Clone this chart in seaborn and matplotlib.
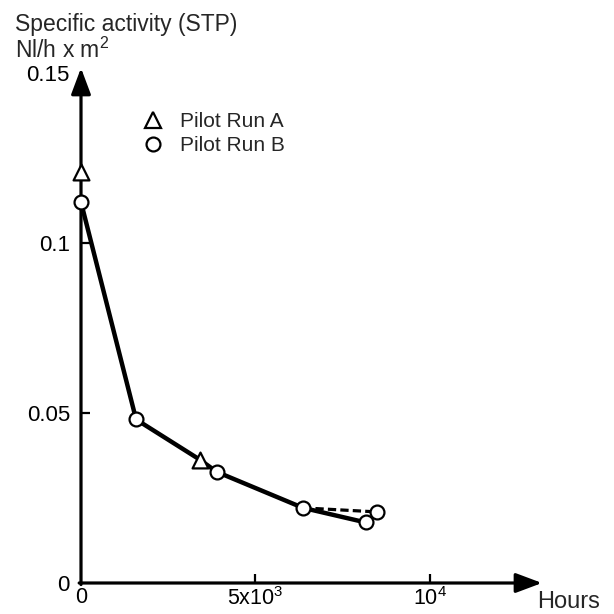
import matplotlib
matplotlib.use("Agg")
import matplotlib.pyplot as plt
import seaborn as sns
import pandas as pd
from matplotlib.lines import Line2D

# ---- data ----
run_a_hours = [0, 3406]
run_a_activity = [0.121, 0.0363]

run_b_hours = [0, 1581, 3891, 6370, 8175, 8502]
run_b_activity = [0.112, 0.0481, 0.0327, 0.0221, 0.0178, 0.0209]

trend_hours = [0, 1581, 3406, 3891, 6370, 8175]
trend_activity = [0.112, 0.0481, 0.0363, 0.0327, 0.0221, 0.0178]

dashed_hours = [6370, 8502]
dashed_activity = [0.0221, 0.0209]

y_ticks = [0, 0.05, 0.1, 0.15]
y_tick_labels = ["0", "0.05", "0.1", "0.15"]
x_ticks = [0, 5000, 10000]
x_tick_labels = ["0", "5x10$^{3}$", "10$^{4}$"]

legend_labels = ["Pilot Run A", "Pilot Run B"]

sns.set_style("white")
plt.rcParams["font.family"] = ["Liberation Sans", "DejaVu Sans"]
plt.rcParams["mathtext.fontset"] = "custom"
plt.rcParams["mathtext.rm"] = "Liberation Sans"
plt.rcParams["mathtext.it"] = "Liberation Sans"
plt.rcParams["mathtext.bf"] = "Liberation Sans"

W = H = 614
fig = plt.figure(figsize=(6.14, 6.14), dpi=100)
ax_left, ax_right, ax_bottom, ax_top = 81, 542, 583, 68
ax = fig.add_axes([ax_left / W, 1 - ax_bottom / H,
                   (ax_right - ax_left) / W, (ax_bottom - ax_top) / H])
ax.set_facecolor("none")

df_trend = pd.DataFrame({"hours": trend_hours, "activity": trend_activity})
df_dash = pd.DataFrame({"hours": dashed_hours, "activity": dashed_activity})
df_a = pd.DataFrame({"hours": run_a_hours, "activity": run_a_activity})
df_b = pd.DataFrame({"hours": run_b_hours, "activity": run_b_activity})

sns.lineplot(data=df_trend, x="hours", y="activity", sort=False, estimator=None,
             color="black", linewidth=3.2, ax=ax, zorder=2, solid_capstyle="round")
sns.lineplot(data=df_dash, x="hours", y="activity", sort=False, estimator=None,
             color="black", linewidth=2.3, ax=ax, zorder=2, linestyle="--")
ax.lines[-1].set_dashes([2.6, 1.3])

sns.scatterplot(data=df_a, x="hours", y="activity", marker="^", s=130,
                facecolor="white", edgecolor="black", linewidth=1.6, ax=ax,
                zorder=4, clip_on=False)
sns.scatterplot(data=df_b, x="hours", y="activity", marker="o", s=100,
                facecolor="white", edgecolor="black", linewidth=1.6, ax=ax,
                zorder=4, clip_on=False)

ax.set_xlim(0, (ax_right - ax_left) / 0.03485)
ax.set_ylim(0, (ax_bottom - ax_top) / 3400)

for s in ax.spines.values():
    s.set_visible(False)

arrow_kw = dict(arrowstyle="-|>,head_length=1.6,head_width=0.6", color="black",
                lw=2.3, shrinkA=0, shrinkB=0, mutation_scale=10)
ax.annotate("", xy=(1, 0), xytext=(-0.004, 0), xycoords="axes fraction",
            textcoords="axes fraction", arrowprops=arrow_kw, zorder=1)
ax.annotate("", xy=(0, 1), xytext=(0, -0.003), xycoords="axes fraction",
            textcoords="axes fraction", arrowprops=arrow_kw, zorder=1)

ax.set_xticks(x_ticks)
ax.set_xticklabels(x_tick_labels)
ax.set_yticks(y_ticks)
ax.set_yticklabels(y_tick_labels)
ax.tick_params(axis="both", direction="in", length=6.5, width=1.6, color="black",
               labelsize=16, labelcolor="black", bottom=True, left=True)
ax.tick_params(axis="x", pad=3, labelsize=15.5)
ax.tick_params(axis="y", pad=8)
ax.yaxis.get_major_ticks()[-1].tick1line.set_visible(False)
ax.yaxis.get_major_ticks()[0].tick1line.set_visible(False)
ax.xaxis.get_major_ticks()[0].tick1line.set_visible(False)
ax.set_xlabel("")
ax.set_ylabel("")

fig.text(15 / W, 1 - 31 / H, "Specific activity (STP)", fontsize=16.5,
         ha="left", va="baseline")
fig.text(15 / W, 1 - 58 / H, "Nl/h x m$^{2}$", fontsize=16.5,
         ha="left", va="baseline")
fig.text(537 / W, 1 - 608 / H, "Hours", fontsize=17, ha="left", va="baseline")

handles = [
    Line2D([], [], marker="^", ls="", mfc="white", mec="black", ms=11.5, mew=1.6),
    Line2D([], [], marker="o", ls="", mfc="white", mec="black", ms=10, mew=1.6),
]
fig.legend(handles, legend_labels, loc="upper left",
           bbox_to_anchor=(143 / W, 1 - 112 / H), frameon=False, fontsize=15,
           handlelength=1.0, handletextpad=0.8, labelspacing=0.25,
           borderpad=0, borderaxespad=0)

fig.savefig("out.png", dpi=100)
